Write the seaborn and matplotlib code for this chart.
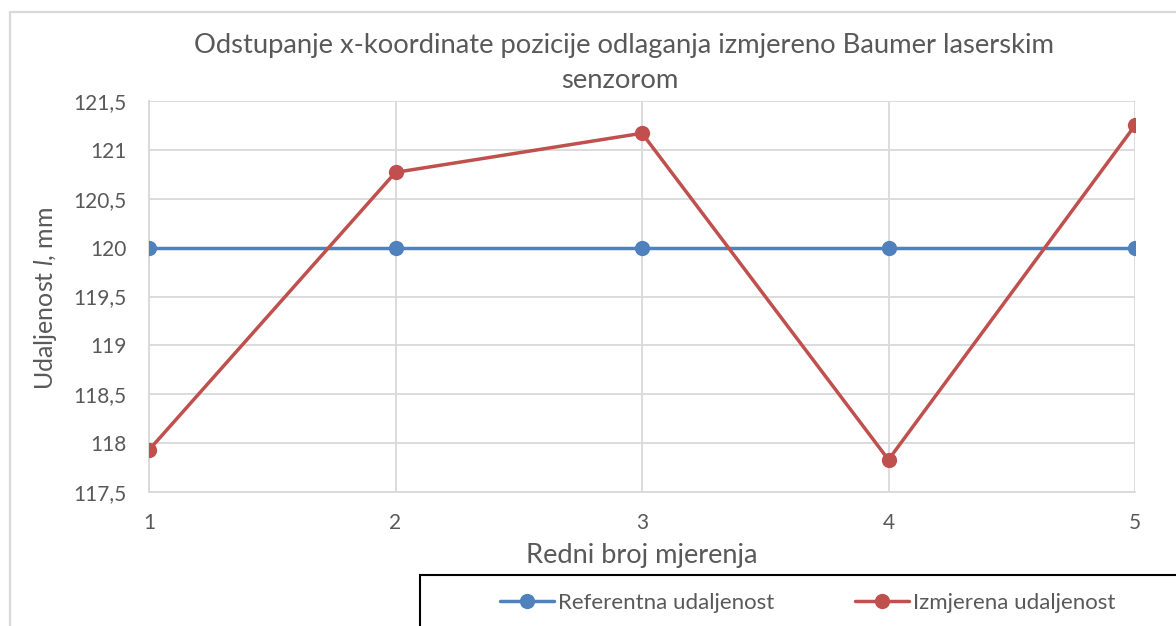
import matplotlib
matplotlib.use("Agg")
import matplotlib.pyplot as plt
from matplotlib.patches import Rectangle
import pandas as pd
import seaborn as sns

# Measurement data
mjerenja = [1, 2, 3, 4, 5]
referentna = [120, 120, 120, 120, 120]
izmjerena = [117.93, 120.77, 121.17, 117.83, 121.25]
serije = ["Referentna udaljenost", "Izmjerena udaljenost"]
y_ticks = [117.5, 118, 118.5, 119, 119.5, 120, 120.5, 121, 121.5]
naslov = ["Odstupanje x-koordinate pozicije odlaganja izmjereno Baumer laserskim",
          "senzorom"]

sns.set_theme(style="white")
plt.rcParams["font.family"] = ["Lato", "DejaVu Sans"]
plt.rcParams["mathtext.fontset"] = "custom"
plt.rcParams["mathtext.it"] = "Lato:italic"
plt.rcParams["mathtext.rm"] = "Lato"

TEXT = "#595959"
GRID = "#d9d9d9"
BLUE = "#4F81BD"
RED = "#C0504D"
W, H = 1176, 626

df = pd.DataFrame({
    "mjerenje": mjerenja * 2,
    "udaljenost": referentna + izmjerena,
    "serija": [serije[0]] * len(mjerenja) + [serije[1]] * len(mjerenja),
})

fig = plt.figure(figsize=(W / 100, H / 100), dpi=100)
ax = fig.add_axes([149 / W, 1 - 492 / H, (1135 - 149) / W, (492 - 101) / H])

sns.lineplot(data=df, x="mjerenje", y="udaljenost", hue="serija",
             palette=[BLUE, RED], marker="o", markersize=11,
             markeredgewidth=0, linewidth=2.5, ax=ax, legend=False,
             zorder=3)

ax.set_xlim(1, 5)
ax.set_ylim(117.5, 121.5)
ax.set_xticks(mjerenja)
ax.set_xticklabels([str(m) for m in mjerenja])
ax.set_yticks(y_ticks)
ax.set_yticklabels([f"{t:g}".replace(".", ",") for t in y_ticks])
ax.tick_params(axis="both", length=0, labelsize=15, colors=TEXT)
ax.tick_params(axis="x", pad=15)
ax.tick_params(axis="y", pad=16)
ax.grid(True, color=GRID, linewidth=1.3)
ax.set_axisbelow(True)
for sp in ax.spines.values():
    sp.set_color(GRID)
    sp.set_linewidth(1.3)
ax.spines["top"].set_visible(False)
ax.spines["right"].set_visible(False)

ax.set_xlabel("Redni broj mjerenja", fontsize=19.6, color=TEXT, va="center")
ax.xaxis.set_label_coords(0.5, (492 - 556) / 391)
ax.set_ylabel("Udaljenost $\\mathit{l}$, mm", fontsize=18, color=TEXT, va="center")
ax.yaxis.set_label_coords((46 - 149) / 986, (492 - 298) / 391)

# Two-line chart title
fig.text(624 / W, 1 - 45 / H, naslov[0], ha="center", va="center",
         fontsize=19.7, color=TEXT)
fig.text(620 / W, 1 - 81 / H, naslov[1], ha="center", va="center",
         fontsize=19.7, color=TEXT)

# Outer chart frame
fig.add_artist(Rectangle((10 / W, -0.1), 1.2, 1 - 12 / H + 0.1,
                         transform=fig.transFigure, fill=False,
                         edgecolor=GRID, linewidth=1.6))

# Legend box
fig.add_artist(Rectangle((420 / W, -0.1), 1.0, 0.1 + 1 - 575 / H,
                         transform=fig.transFigure, facecolor="white",
                         edgecolor="black", linewidth=1.5, zorder=5))

for serija, boja, x0 in zip(serije, (BLUE, RED), (500, 855)):
    h = plt.Line2D([], [], color=boja, marker="o", markersize=11,
                   markeredgewidth=0, linewidth=2.5)
    leg = fig.legend([h], [serija], loc="center left",
                     bbox_to_anchor=(x0 / W, 1 - 603 / H),
                     frameon=False, fontsize=16, handlelength=2.45,
                     handletextpad=0.18, borderpad=0, borderaxespad=0)
    for t in leg.get_texts():
        t.set_color(TEXT)
    leg.set_zorder(6)

fig.savefig("out.png", dpi=100)
